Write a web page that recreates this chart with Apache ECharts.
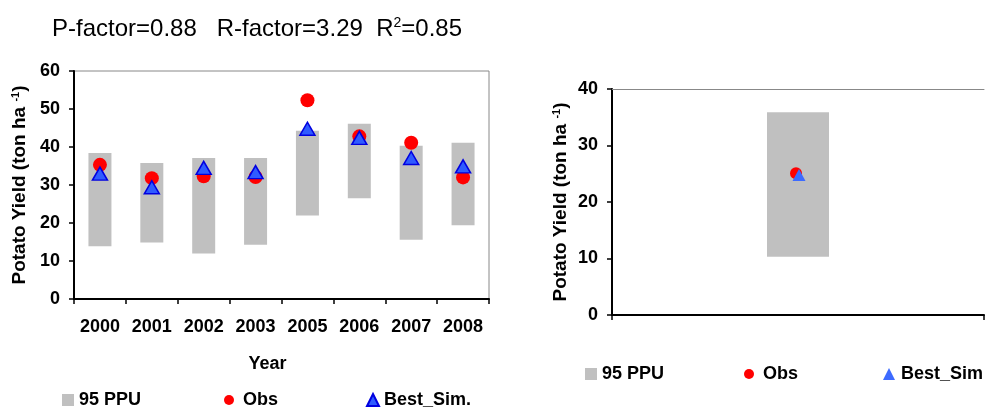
<!DOCTYPE html>
<html>
<head>
<meta charset="utf-8">
<script src="https://cdn.jsdelivr.net/npm/echarts@6/dist/echarts.min.js"></script>
<style>
  html, body { margin: 0; padding: 0; background: #fff; }
  #chart { width: 986px; height: 408px; }
</style>
</head>
<body>
<div id="chart"></div>
<script>
// Calibration period (left panel)
const years = ['2000', '2001', '2002', '2003', '2005', '2006', '2007', '2008'];
const ppuLow = [13.9, 14.9, 12.0, 14.3, 22.0, 26.5, 15.6, 19.4];
const ppuHigh = [38.4, 35.8, 37.1, 37.1, 44.3, 46.1, 40.3, 41.1];
const obs = [35.3, 31.8, 32.3, 32.1, 52.3, 42.8, 41.1, 32.0];
const bestSim = [33.0, 29.4, 34.5, 33.4, 44.8, 42.4, 37.1, 34.9];
const leftTicks = [0, 10, 20, 30, 40, 50, 60];

// Validation (right panel)
const valCats = [''];
const valPpuLow = [10.3];
const valPpuHigh = [35.9];
const valObs = [25.1];
const valSim = [24.8];
const rightTicks = [0, 10, 20, 30, 40];

const FONT = '"Liberation Sans", Arial, sans-serif';
const GRAY = '#c0c0c0';
const RED = '#ff0000';
const BLUE = '#2f5bff';

const ppuSpan = (lo, hi) => hi.map((h, i) => +(h - lo[i]).toFixed(2));

const chart = echarts.init(document.getElementById('chart'), null, { renderer: 'canvas' });

const yName = {
  name: 'Potato Yield (ton ha {sup|-1})',
  nameLocation: 'middle',
  nameRotate: 90,
  nameTextStyle: {
    fontFamily: FONT, fontWeight: 'bold', fontSize: 19, color: '#000',
    rich: { sup: { fontFamily: FONT, fontWeight: 'bold', fontSize: 11, verticalAlign: 'top', padding: [0, 0, 9, 0], color: '#000' } }
  }
};

const axisLabelStyle = { fontFamily: FONT, fontWeight: 'bold', fontSize: 18, color: '#000' };

const legendText = { fontFamily: FONT, fontWeight: 'bold', fontSize: 18, color: '#000' };

function legendItem(name, icon, left, top, w, h, pad) {
  return {
    data: [{ name: name, icon: icon }],
    left: left, top: top, padding: 0,
    itemWidth: w, itemHeight: h,
    selectedMode: false,
    textStyle: Object.assign({ padding: [0, 0, 0, pad || 0] }, legendText)
  };
}

const option = {
  animation: false,
  backgroundColor: '#fff',
  title: {
    text: 'P-factor=0.88   R-factor=3.29  R{sup|2}=0.85',
    left: 47, top: 11,
    textStyle: {
      fontFamily: FONT, fontWeight: 'normal', fontSize: 24, color: '#000',
      rich: { sup: { fontFamily: FONT, fontSize: 14, color: '#000', verticalAlign: 'top', padding: [0, 0, 12, 0] } }
    }
  },
  grid: [
    { left: 74, top: 71, width: 415, height: 228, show: true, borderColor: '#888', borderWidth: 1, backgroundColor: 'transparent' },
    { left: 612, top: 89, width: 372, height: 226, show: false }
  ],
  legend: [
    legendItem('95 PPU', 'rect', 62, 391, 12, 12),
    legendItem('Obs', 'circle', 224, 391, 10, 10, 4),
    legendItem('Best_Sim.', 'triangle', 366, 391, 12, 12),
    legendItem('95 PPU ', 'rect', 585, 365, 12, 12),
    legendItem('Obs ', 'circle', 744, 365, 10, 10, 4),
    legendItem('Best_Sim', 'triangle', 883, 365, 12, 12, 1)
  ],
  xAxis: [
    {
      gridIndex: 0, type: 'category', data: years, boundaryGap: true,
      name: 'Year', nameLocation: 'middle', nameGap: 56,
      nameTextStyle: { fontFamily: FONT, fontWeight: 'bold', fontSize: 18, color: '#000', padding: [0, 28, 0, 0] },
      axisLine: { lineStyle: { color: '#000', width: 2 } },
      axisTick: { show: true, inside: false, length: 5, interval: 0, alignWithLabel: false, lineStyle: { color: '#000', width: 1.5 } },
      axisLabel: Object.assign({ margin: 19, interval: 0, hideOverlap: false }, axisLabelStyle),
      splitLine: { show: false }
    },
    {
      gridIndex: 1, type: 'category', data: valCats, boundaryGap: true,
      axisLine: { lineStyle: { color: '#000', width: 2 } },
      axisTick: { show: true, length: 5, lineStyle: { color: '#000', width: 1.5 } },
      axisLabel: { show: false },
      splitLine: { show: false }
    },
    {
      // top frame line of the right panel
      gridIndex: 1, type: 'category', data: valCats, position: 'top',
      axisLine: { lineStyle: { color: '#888', width: 1 } },
      axisTick: { show: false }, axisLabel: { show: false }, splitLine: { show: false }
    }
  ],
  yAxis: [
    Object.assign({
      gridIndex: 0, type: 'value', min: leftTicks[0], max: leftTicks[leftTicks.length - 1], interval: 10,
      nameGap: 44,
      axisLine: { show: true, lineStyle: { color: '#000', width: 2 } },
      axisTick: { show: true, length: 5, lineStyle: { color: '#000', width: 1.5 } },
      axisLabel: Object.assign({ margin: 14 }, axisLabelStyle),
      splitLine: { show: false }
    }, yName),
    Object.assign({
      gridIndex: 1, type: 'value', min: rightTicks[0], max: rightTicks[rightTicks.length - 1], interval: 10,
      nameGap: 41,
      axisLine: { show: true, lineStyle: { color: '#000', width: 2 } },
      axisTick: { show: true, length: 5, lineStyle: { color: '#000', width: 1.5 } },
      axisLabel: Object.assign({ margin: 14 }, axisLabelStyle),
      splitLine: { show: false }
    }, yName)
  ],
  series: [
    // Left panel: 95PPU band as floating bars (invisible base + visible span)
    { type: 'bar', name: 'ppuBase', xAxisIndex: 0, yAxisIndex: 0, stack: 'ppu', data: ppuLow, barWidth: 23,
      itemStyle: { color: 'transparent' }, silent: true },
    { type: 'bar', name: '95 PPU', xAxisIndex: 0, yAxisIndex: 0, stack: 'ppu', data: ppuSpan(ppuLow, ppuHigh), barWidth: 23,
      itemStyle: { color: GRAY } },
    { type: 'scatter', name: 'Obs', xAxisIndex: 0, yAxisIndex: 0, data: obs, symbol: 'circle', symbolSize: 14,
      itemStyle: { color: RED, opacity: 1 }, z: 3 },
    { type: 'scatter', name: 'Best_Sim.', xAxisIndex: 0, yAxisIndex: 0, data: bestSim, symbol: 'triangle', symbolSize: [15, 13],
      itemStyle: { color: BLUE, borderColor: '#0000e0', borderWidth: 1.5, opacity: 1 }, z: 4 },

    // Right panel
    { type: 'bar', name: 'valBase', xAxisIndex: 1, yAxisIndex: 1, stack: 'vppu', data: valPpuLow, barWidth: 62,
      itemStyle: { color: 'transparent' }, silent: true },
    { type: 'bar', name: '95 PPU ', xAxisIndex: 1, yAxisIndex: 1, stack: 'vppu', data: ppuSpan(valPpuLow, valPpuHigh), barWidth: 62,
      itemStyle: { color: GRAY } },
    { type: 'scatter', name: 'Obs ', xAxisIndex: 1, yAxisIndex: 1, data: valObs, symbol: 'circle', symbolSize: 12,
      symbolOffset: [-2, 0], itemStyle: { color: RED, opacity: 1 }, z: 3 },
    { type: 'scatter', name: 'Best_Sim', xAxisIndex: 1, yAxisIndex: 1, data: valSim, symbol: 'triangle', symbolSize: [13, 12],
      symbolOffset: [1, 0], itemStyle: { color: '#3d6bff', opacity: 1 }, z: 4 }
  ]
};

chart.setOption(option);
</script>
</body>
</html>
